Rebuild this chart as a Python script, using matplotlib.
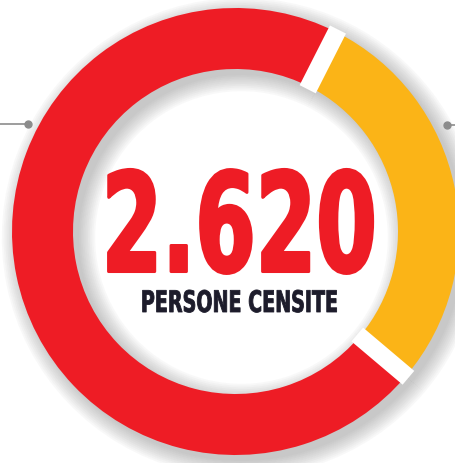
import matplotlib
matplotlib.use("Agg")
import matplotlib.pyplot as plt
import matplotlib.patheffects as pe
import numpy as np
from matplotlib import font_manager
from matplotlib.font_manager import FontProperties
from matplotlib.text import Text
from matplotlib.textpath import TextPath
from matplotlib.transforms import Affine2D, Bbox

# data
labels = ["Gialli", "Rossi"]
counts = [752, 1868]
colors = ["#fbb417", "#ee1c25"]
total_label = "2.620"
subtitle = "PERSONE CENSITE"

RED = "#ee1c25"
DPI = 100

names = {f.name for f in font_manager.fontManager.ttflist}
FAMILY = "Liberation Sans Narrow" if "Liberation Sans Narrow" in names else "DejaVu Sans"


class Squeeze(pe.AbstractPathEffect):
    # narrow the glyphs horizontally around their centre, optional same-colour stroke
    def __init__(self, sx, lw=0.0):
        super().__init__()
        self.sx = sx
        self.lw = lw

    def draw_path(self, renderer, gc, tpath, affine, rgbFace=None):
        ext = tpath.get_extents(affine)
        cx = (ext.x0 + ext.x1) / 2
        aff = affine + Affine2D().translate(-cx, 0).scale(self.sx, 1).translate(cx, 0)
        gc0 = renderer.new_gc()
        gc0.copy_properties(gc)
        if self.lw:
            gc0.set_linewidth(self.lw)
            gc0.set_foreground(rgbFace)
        renderer.draw_path(gc0, tpath, aff, rgbFace)
        gc0.restore()


class NarrowText(Text):
    # condensed text whose reported extent is the squeezed ink box
    def __init__(self, x, y, s, sx=1.0, lw=0.0, **kw):
        super().__init__(x, y, s, path_effects=[Squeeze(sx, lw)], **kw)
        self.sx = sx

    def get_window_extent(self, renderer=None, dpi=None):
        k = DPI / 72
        e = TextPath((0, 0), self.get_text(), prop=self.get_fontproperties()).get_extents()
        bx, by = self.get_transform().transform((self._x, self._y))
        hw = (e.x1 - e.x0) * k * self.sx / 2
        return Bbox([[bx - hw, by + e.y0 * k], [bx + hw, by + e.y1 * k]])


def fit(s, w_px, h_px):
    # font size and horizontal squeeze giving the wanted ink box
    prop = FontProperties(family=FAMILY, weight="bold", size=100)
    e = TextPath((0, 0), s, prop=prop).get_extents()
    k = DPI / 72
    size = 100 * h_px / (e.height * k)
    sx = w_px / (e.width * k * size / 100)
    return size, sx


fig = plt.figure(figsize=(4.56, 4.64), dpi=DPI)
ax = fig.add_axes([0, 0, 1, 1])

cx, cy = 235.5, 231.5
R, W = 223.5, 61
start = 63.1

# soft drop shadow
for k in range(10):
    d = 1.8 * k
    ax.pie(counts, radius=R + d, startangle=start, counterclock=False,
           center=(cx + 6, cy - 6), colors=["#707070"] * 2,
           wedgeprops=dict(width=W + 2 * d, linewidth=0, alpha=0.045))

wedges, _ = ax.pie(counts, radius=R, startangle=start, counterclock=False,
                   center=(cx, cy), colors=colors,
                   wedgeprops=dict(width=W, linewidth=0))

# white gaps between the slices
for w in wedges:
    a = np.deg2rad(w.theta1)
    r0, r1 = R - W - 3, R + 3
    ax.plot([cx + r0 * np.cos(a), cx + r1 * np.cos(a)],
            [cy + r0 * np.sin(a), cy + r1 * np.sin(a)],
            color="white", lw=13, solid_capstyle="butt")

# side connectors
ax.plot([0, 28], [339, 339], color="#8c8c8c", lw=1.2)
ax.plot([28], [339], "o", color="#8c8c8c", ms=5)
ax.plot([447, 456], [338, 338], color="#8c8c8c", lw=1.2)
ax.plot([447], [338], "o", color="#8c8c8c", ms=5)

fs1, sx1 = fit(total_label, 264, 104)
ax.add_artist(NarrowText(238.5, 464 - 272.5, total_label, sx=sx1, lw=2.2,
                         ha="center", va="baseline", fontsize=fs1,
                         family=FAMILY, fontweight="bold", color=RED))
fs2, sx2 = fit(subtitle, 194, 22.5)
ax.add_artist(NarrowText(239.5, 464 - 313, subtitle, sx=sx2, lw=0.6,
                         ha="center", va="baseline", fontsize=fs2,
                         family=FAMILY, fontweight="bold", color="#1d1c2b"))

ax.set_xlim(0, 456)
ax.set_ylim(0, 464)
ax.set_aspect("auto")
ax.axis("off")
fig.savefig("out.png", dpi=DPI)
